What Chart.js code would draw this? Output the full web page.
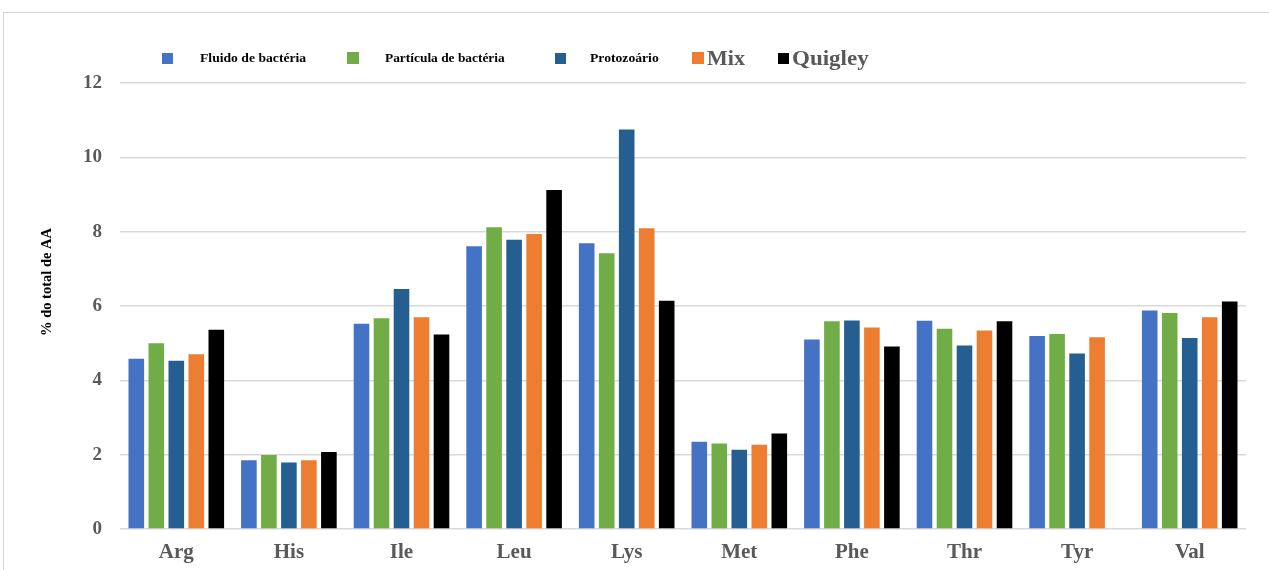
<!DOCTYPE html>
<html>
<head>
<meta charset="utf-8">
<script src="https://cdn.jsdelivr.net/npm/chart.js@4"></script>
<style>
  html, body { margin: 0; padding: 0; background: #fff; }
  body { width: 1269px; height: 570px; position: relative; overflow: hidden; }
  #frame { position: absolute; left: 3px; top: 12px; width: 1400px; height: 700px;
           border-top: 1px solid #d4d4d4; border-left: 1px solid #d4d4d4; }
  #wrap { position: absolute; left: 0; top: 0; width: 1269px; height: 570px; }
  #legend { position: absolute; left: 0; top: 0; width: 1269px; height: 80px;
            font-family: "Liberation Serif", "DejaVu Serif", serif; font-weight: bold; }
  .item { position: absolute; display: flex; align-items: center; white-space: nowrap; }
  .box { width: 11px; height: 11px; display: inline-block; }
  .txt { display: inline-block; transform-origin: left center; }
</style>
</head>
<body>
<div id="frame"></div>
<div id="wrap"><canvas id="chart" width="1269" height="570"></canvas></div>
<div id="legend"></div>
<script>
const categories = ['Arg', 'His', 'Ile', 'Leu', 'Lys', 'Met', 'Phe', 'Thr', 'Tyr', 'Val'];
const seriesNames = ['Fluido de bactéria', 'Partícula de bactéria', 'Protozoário', 'Mix', 'Quigley'];
const fluidoBacteria    = [4.58, 1.85, 5.52, 7.61, 7.69, 2.35, 5.10, 5.60, 5.19, 5.88];
const particulaBacteria = [5.00, 1.99, 5.67, 8.12, 7.42, 2.30, 5.59, 5.39, 5.25, 5.81];
const protozoario       = [4.53, 1.79, 6.46, 7.78, 10.75, 2.13, 5.61, 4.94, 4.72, 5.14];
const mix               = [4.70, 1.85, 5.70, 7.94, 8.09, 2.27, 5.42, 5.34, 5.16, 5.70];
const quigley           = [5.36, 2.07, 5.23, 9.12, 6.14, 2.57, 4.91, 5.59, null, 6.12];
const yTicks = [0, 2, 4, 6, 8, 10, 12];
const yTitle = '% do total de AA';

const colors = ['#4472C4', '#70AD47', '#255E91', '#ED7D31', '#000000'];
const values = [fluidoBacteria, particulaBacteria, protozoario, mix, quigley];

// Legend entries: position and label styling
const legendLayout = [
  { left: 162, box: 11, gap: 27, size: 13, stretch: 1.05, color: '#000' },
  { left: 347, box: 12, gap: 26, size: 13, stretch: 1.03, color: '#000' },
  { left: 555, box: 11, gap: 24, size: 13, stretch: 1.05, color: '#000' },
  { left: 692, box: 12, gap: 3,  size: 20, stretch: 1.1,  color: '#595959' },
  { left: 778, box: 11, gap: 3,  size: 20, stretch: 1.15, color: '#595959' }
];
const legendEl = document.getElementById('legend');
seriesNames.forEach((name, i) => {
  const L = legendLayout[i];
  const item = document.createElement('div');
  item.className = 'item';
  item.style.left = L.left + 'px';
  item.style.top = '46px';
  item.style.height = '24px';
  const box = document.createElement('span');
  box.className = 'box';
  box.style.background = colors[i];
  box.style.width = L.box + 'px';
  box.style.height = L.box + 'px';
  const txt = document.createElement('span');
  txt.className = 'txt';
  txt.textContent = name;
  txt.style.marginLeft = L.gap + 'px';
  txt.style.fontSize = L.size + 'px';
  txt.style.color = L.color;
  txt.style.transform = 'scaleX(' + L.stretch + ')';
  item.appendChild(box);
  item.appendChild(txt);
  legendEl.appendChild(item);
});

const serif = '"Liberation Serif", "DejaVu Serif", serif';

// Rotated y-axis caption, placed beside the value axis
const yCaption = {
  id: 'yCaption',
  afterDraw(chart) {
    const { ctx } = chart;
    ctx.save();
    ctx.translate(47, 282);
    ctx.rotate(-Math.PI / 2);
    ctx.font = 'bold 14.5px ' + serif;
    ctx.fillStyle = '#000';
    ctx.textAlign = 'center';
    ctx.textBaseline = 'middle';
    ctx.fillText(yTitle, 0, 0);
    ctx.restore();
  }
};

new Chart(document.getElementById('chart'), {
  type: 'bar',
  data: {
    labels: categories,
    datasets: seriesNames.map((name, i) => ({
      label: name,
      data: values[i],
      backgroundColor: colors[i],
      borderWidth: 0,
      barPercentage: 0.78,
      categoryPercentage: 0.888
    }))
  },
  options: {
    responsive: false,
    animation: false,
    layout: { padding: { left: 0, right: 23, top: 83, bottom: 0 } },
    plugins: { legend: { display: false }, tooltip: { enabled: false } },
    scales: {
      x: {
        grid: { display: false, drawTicks: false },
        border: { display: false },
        ticks: { color: '#595959', padding: 11, font: { family: serif, size: 21, weight: 'bold' } },
        afterFit: (s) => { s.height = 41; }
      },
      y: {
        min: 0,
        max: 12,
        afterBuildTicks: (s) => { s.ticks = yTicks.map(v => ({ value: v })); },
        grid: { color: '#d9d9d9', lineWidth: 1.6, drawTicks: false },
        border: { display: false },
        ticks: { color: '#595959', padding: 18, font: { family: serif, size: 19, weight: 'bold' } },
        afterFit: (s) => { s.width = 120; }
      }
    }
  },
  plugins: [yCaption]
});
</script>
</body>
</html>
